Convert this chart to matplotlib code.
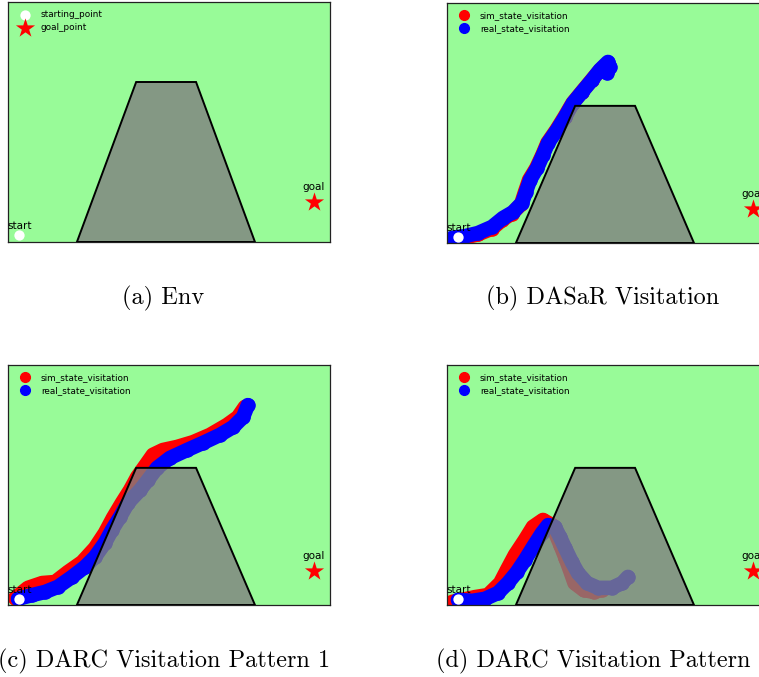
import matplotlib
matplotlib.use("Agg")
import matplotlib.pyplot as plt
from matplotlib.patches import Polygon
from matplotlib.lines import Line2D

# ---- environment geometry -------------------------------------------------
obstacle_x = [2.14, 3.98, 5.84, 7.67]
obstacle_y = [0.0, 4.0, 4.0, 0.0]
start_xy = (0.35, 0.18)
goal_xy = (9.5, 1.0)

# ---- state visitation trajectories ---------------------------------------
# DASaR
dasar_sim_x = [0.10, 0.50, 0.95, 1.40, 1.72, 2.02, 2.30, 2.42, 2.55, 2.77,
               2.96, 3.12, 3.40, 3.65, 3.90, 4.18, 4.49, 4.74, 4.98]
dasar_sim_y = [0.09, 0.15, 0.25, 0.42, 0.68, 0.86, 1.13, 1.48, 1.84, 2.18,
               2.56, 2.92, 3.30, 3.68, 4.08, 4.40, 4.75, 5.03, 5.24]
dasar_real_x = [0.16, 0.56, 0.96, 1.40, 1.74, 2.05, 2.33, 2.45, 2.58, 2.80,
                2.98, 3.14, 3.42, 3.67, 3.91, 4.19, 4.50, 4.75, 5.00, 5.06, 4.97]
dasar_real_y = [0.15, 0.20, 0.29, 0.47, 0.73, 0.90, 1.17, 1.49, 1.84, 2.19,
                2.57, 2.92, 3.30, 3.68, 4.08, 4.40, 4.75, 5.05, 5.28, 5.13, 4.96]

# DARC, pattern 1
darc1_sim_x = [0.22, 0.62, 1.06, 1.46, 1.86, 2.30, 2.70, 3.01, 3.26, 3.54,
               3.79, 4.01, 4.32, 4.50, 4.81, 5.25, 5.75, 6.27, 6.80, 7.14, 7.36]
darc1_sim_y = [0.20, 0.50, 0.64, 0.67, 0.96, 1.25, 1.66, 2.10, 2.54, 2.98,
               3.35, 3.73, 4.14, 4.38, 4.52, 4.61, 4.75, 4.96, 5.25, 5.48, 5.78]
darc1_real_x = [0.31, 0.75, 1.15, 1.55, 1.99, 2.39, 2.70, 3.01, 3.23, 3.48,
                3.73, 4.10, 4.35, 4.63, 5.03, 5.56, 6.06, 6.58, 6.99, 7.30, 7.45]
darc1_real_y = [0.18, 0.29, 0.38, 0.53, 0.82, 1.11, 1.40, 1.81, 2.19, 2.57,
                2.98, 3.35, 3.65, 4.00, 4.29, 4.52, 4.73, 4.96, 5.19, 5.48, 5.83]

# DARC, pattern 2
darc2_sim_x = [0.16, 0.87, 1.27, 1.65, 1.86, 2.11, 2.42, 2.67, 2.98, 3.26,
               3.52, 3.68, 3.84, 3.96, 4.24, 4.55, 4.81]
darc2_sim_y = [0.09, 0.23, 0.29, 0.64, 1.02, 1.46, 1.90, 2.28, 2.48, 2.33,
               1.75, 1.37, 0.96, 0.64, 0.44, 0.38, 0.44]
darc2_real_x = [0.34, 0.78, 1.18, 1.58, 1.89, 2.17, 2.42, 2.67, 2.95, 3.14,
                3.35, 3.51, 3.67, 3.88, 4.07, 4.35, 4.69, 5.12, 5.44, 5.62]
darc2_real_y = [0.15, 0.12, 0.18, 0.35, 0.64, 0.96, 1.31, 1.69, 2.10, 2.33,
                2.28, 1.98, 1.66, 1.25, 0.93, 0.64, 0.50, 0.50, 0.64, 0.82]

captions = ["(a) Env", "(b) DASaR Visitation",
            "(c) DARC Visitation Pattern 1", "(d) DARC Visitation Pattern 2"]

# ---- styling --------------------------------------------------------------
BG = "palegreen"
BAND = 10.5          # width of a trajectory band, in points
LEGEND_FS = 6.4
LABEL_FS = 7.5
CAPTION_FS = 17.5

fig = plt.figure(figsize=(7.59, 6.77), dpi=100)
W, H = 759.0, 677.0
ax_w, ax_h = 322 / W, 240 / H
ax_a = fig.add_axes([8 / W, 1 - 242 / H, ax_w, ax_h])
ax_b = fig.add_axes([447 / W, 1 - 243 / H, ax_w, ax_h])
ax_c = fig.add_axes([8 / W, 1 - 605 / H, ax_w, ax_h])
ax_d = fig.add_axes([447 / W, 1 - 605 / H, ax_w, ax_h])


def setup(ax, ytop):
    ax.set_facecolor(BG)
    ax.set_xlim(0, 10)
    ax.set_ylim(0, ytop)
    ax.set_xticks([])
    ax.set_yticks([])
    for sp in ax.spines.values():
        sp.set_color("#222222")
        sp.set_linewidth(0.9)
    ax.add_patch(Polygon(list(zip(obstacle_x, obstacle_y)), closed=True,
                         facecolor=(0.5, 0.5, 0.5, 0.8), edgecolor="black",
                         linewidth=1.4, zorder=3))
    st = ax.scatter([start_xy[0]], [start_xy[1]], s=55, color="white",
                    linewidths=0, zorder=5, label="starting_point")
    gl = ax.scatter([goal_xy[0]], [goal_xy[1]], s=210, marker="*",
                    color="red", linewidths=0, zorder=5, label="goal_point")
    ax.annotate("start", start_xy, xytext=(0, 4.5), textcoords="offset points",
                ha="center", va="baseline", fontsize=LABEL_FS, zorder=6)
    ax.annotate("goal", goal_xy, xytext=(0, 8.5), textcoords="offset points",
                ha="center", va="baseline", fontsize=LABEL_FS, zorder=6)
    return st, gl


def draw_path(ax, xs, ys, color):
    ax.plot(xs, ys, color=color, lw=BAND, solid_capstyle="round",
            solid_joinstyle="round", zorder=2)
    ax.scatter(xs, ys, s=BAND ** 2, color=color, linewidths=0, zorder=2)


def visitation_legend(ax):
    handles = [Line2D([], [], ls="", marker="o", markersize=7, color="red",
                      label="sim_state_visitation"),
               Line2D([], [], ls="", marker="o", markersize=7, color="blue",
                      label="real_state_visitation")]
    ax.legend(handles=handles, loc="upper left", frameon=False,
              fontsize=LEGEND_FS, handletextpad=0.8)


# (a) environment
st, gl = setup(ax_a, 6.0)
ax_a.legend(handles=[st, gl], loc="upper left", frameon=False,
            fontsize=LEGEND_FS, scatterpoints=1)

# (b)-(d) visitation plots
panels = [
    (ax_b, dasar_sim_x, dasar_sim_y, dasar_real_x, dasar_real_y),
    (ax_c, darc1_sim_x, darc1_sim_y, darc1_real_x, darc1_real_y),
    (ax_d, darc2_sim_x, darc2_sim_y, darc2_real_x, darc2_real_y),
]
for ax, sx, sy, rx, ry in panels:
    setup(ax, 7.0)
    draw_path(ax, sx, sy, "red")
    draw_path(ax, rx, ry, "blue")
    visitation_legend(ax)

# sub-figure captions
cap_pos = [(163, 298), (603, 298), (164, 661), (603, 661)]
for text, (cx, cy) in zip(captions, cap_pos):
    fig.text(cx / W, 1 - cy / H, text, ha="center", va="center",
             fontsize=CAPTION_FS, family="cmr10")

fig.savefig("out.png", dpi=100)
